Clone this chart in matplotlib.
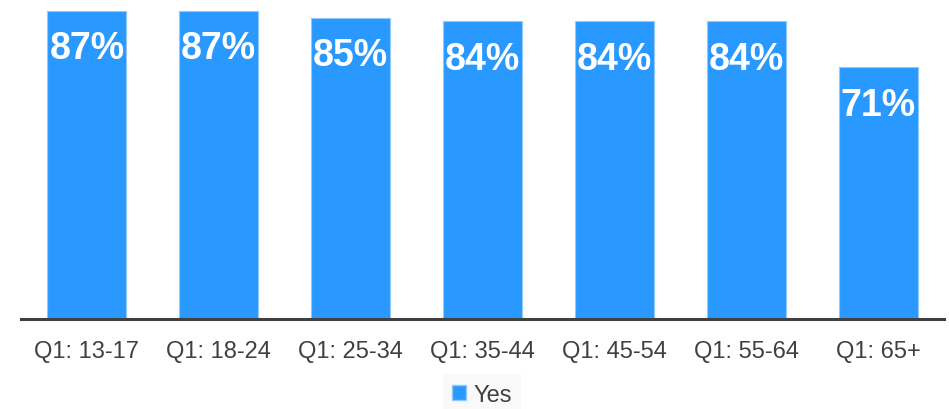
import matplotlib
matplotlib.use("Agg")
import matplotlib.pyplot as plt
from matplotlib.patches import Patch

categories = ["Q1: 13-17", "Q1: 18-24", "Q1: 25-34", "Q1: 35-44", "Q1: 45-54", "Q1: 55-64", "Q1: 65+"]
values = [87, 87, 85, 84, 84, 84, 71]
series_name = "Yes"

plt.rcParams['font.family'] = ['Liberation Sans', 'DejaVu Sans']

fig = plt.figure(figsize=(9.49, 4.10), dpi=100)
ax = fig.add_axes([21/949, 90/410, (944-21)/949, 319/410])

bar_color = "#2999FF"
x = list(range(len(categories)))
bars = ax.bar(x, values, width=0.6, color=bar_color, edgecolor="#93C8FF", linewidth=0.8, zorder=2)

for xi, v in zip(x, values):
    ax.annotate(f"{v}%", xy=(xi, v), xytext=(0, -14), textcoords="offset points",
                ha="center", va="top", color="white", fontsize=27, fontweight="bold", zorder=3)

ax.set_xlim(-0.5, len(categories) - 0.5)
ax.set_ylim(0, 90)
ax.set_yticks([])
for s in ["top", "right", "left"]:
    ax.spines[s].set_visible(False)
ax.spines["bottom"].set_color("#404040")
ax.spines["bottom"].set_linewidth(2.2)
ax.set_xticks(x)
ax.set_xticklabels(categories, fontsize=17, color="#404040")
ax.tick_params(axis="x", length=0, pad=15)

handles = [Patch(facecolor=bar_color, edgecolor="#93C8FF", label=series_name)]
leg = fig.legend(handles=handles, loc="lower center", bbox_to_anchor=(0.508, -0.015),
                 frameon=True, fontsize=17, handlelength=0.6, handleheight=0.6,
                 handletextpad=0.3, borderpad=0.4, borderaxespad=0, labelcolor="#404040")
leg.get_frame().set_facecolor("#F8F8F8")
leg.get_frame().set_edgecolor("none")
leg.get_frame().set_boxstyle("square", pad=0)

fig.savefig("out.png", dpi=100)
